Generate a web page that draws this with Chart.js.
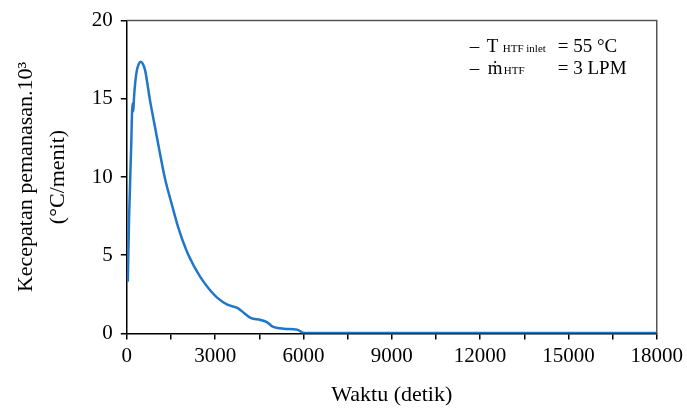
<!DOCTYPE html>
<html>
<head>
<meta charset="utf-8">
<script src="https://cdn.jsdelivr.net/npm/chart.js@4.4.1/dist/chart.umd.min.js"></script>
<style>
  html, body { margin: 0; padding: 0; background: #fff; }
  #wrap { width: 687px; height: 408px; }
</style>
</head>
<body>
<div id="wrap"><canvas id="laju"></canvas></div>
<script>
// waktu (detik) vs kecepatan pemanasan x10^3 (degC/menit)
var waktu = [34, 78, 145, 195, 222, 245, 290, 340, 400, 474, 540, 619, 788, 958, 1127, 1296, 1523, 1746, 2030, 2311, 2500, 2761, 3079, 3417, 3755, 3980, 4206, 4544, 4770, 4940, 5333, 5785, 6010, 7500, 9000, 10500, 12000, 13500, 15000, 16500, 18000];
var kecepatan = [3.3, 7.4, 11.7, 14.7, 14.2, 15.1, 16.1, 16.8, 17.2, 17.37, 17.25, 16.85, 14.9, 13.2, 11.5, 9.9, 8.29, 6.78, 5.28, 4.2, 3.6, 2.92, 2.27, 1.84, 1.63, 1.31, 0.99, 0.86, 0.71, 0.45, 0.3, 0.24, 0.03, 0.03, 0.03, 0.02, 0.02, 0.02, 0.02, 0.02, 0.02];
var xTicks = [0, 3000, 6000, 9000, 12000, 15000, 18000];
var yTicks = [0, 5, 10, 15, 20];

var titikData = waktu.map(function(w, i){ return { x: w, y: kecepatan[i] }; });
var serif = "'Liberation Serif', 'Times New Roman', serif";

var bingkai = {
    id: 'bingkai',
    afterDraw: function(chart){
        var ctx = chart.ctx, a = chart.chartArea;
        ctx.save();
        ctx.strokeStyle = '#555';
        ctx.lineWidth = 1.5;
        ctx.beginPath();
        ctx.moveTo(a.left, a.top);
        ctx.lineTo(a.right, a.top);
        ctx.lineTo(a.right, a.bottom);
        ctx.stroke();

        // keterangan kondisi
        ctx.fillStyle = '#000';
        ctx.textBaseline = 'alphabetic';
        var x0 = a.right - 187, y1 = a.top + 31, y2 = a.top + 53;
        ctx.font = '19px ' + serif;
        ctx.fillText('\u2013', x0, y1);
        ctx.fillText('T', x0 + 17, y1);
        ctx.fillText('\u2013', x0, y2);
        ctx.fillText('m\u0307', x0 + 18, y2);
        ctx.fillText('= 55 \u00B0C', x0 + 88, y1);
        ctx.fillText('= 3 LPM', x0 + 88, y2);
        ctx.font = '11px ' + serif;
        ctx.fillText('HTF inlet', x0 + 33, y1);
        ctx.fillText('HTF', x0 + 34, y2);
        ctx.restore();
    }
};

var ctx = document.getElementById('laju').getContext('2d');
var chart = new Chart(ctx, {
    type: 'line',
    data: {
        datasets: [{
            label: 'Kecepatan pemanasan',
            data: titikData,
            borderColor: '#1f77c8',
            borderWidth: 2.5,
            pointRadius: 0,
            fill: false,
            cubicInterpolationMode: 'monotone'
        }]
    },
    options: {
        responsive: true,
        maintainAspectRatio: false,
        animation: false,
        layout: { padding: { top: 10, right: 28, left: 10, bottom: 0 } },
        plugins: {
            legend: { display: false },
            tooltip: { enabled: false }
        },
        scales: {
            x: {
                type: 'linear',
                min: 0,
                max: 18000,
                afterBuildTicks: function(axis){
                    var t = [];
                    for (var v = 0; v <= 18000; v += 1500) t.push({ value: v });
                    axis.ticks = t;
                },
                ticks: {
                    autoSkip: false,
                    maxRotation: 0,
                    color: '#000',
                    font: { family: serif, size: 21 },
                    padding: 4,
                    callback: function(v){ return xTicks.indexOf(v) >= 0 ? String(v) : ''; }
                },
                grid: { drawOnChartArea: false, drawTicks: true, tickLength: 6, color: '#000', lineWidth: 1.5 },
                border: { color: '#000', width: 1.5 },
                title: {
                    display: true,
                    text: 'Waktu (detik)',
                    color: '#000',
                    font: { family: serif, size: 22 },
                    padding: { top: 9, bottom: 0 }
                }
            },
            y: {
                min: 0,
                max: 20,
                afterBuildTicks: function(axis){
                    axis.ticks = yTicks.map(function(v){ return { value: v }; });
                },
                ticks: {
                    color: '#000',
                    font: { family: serif, size: 21 },
                    padding: 8
                },
                grid: { drawOnChartArea: false, drawTicks: true, tickLength: 6, color: '#000', lineWidth: 1.5 },
                border: { color: '#000', width: 1.5 },
                title: {
                    display: true,
                    text: ['Kecepatan pemanasan.10\u00B3', '(\u00B0C/menit)'],
                    color: '#000',
                    font: { family: serif, size: 22, lineHeight: 1.45 },
                    padding: { top: 0, bottom: 10 }
                }
            }
        }
    },
    plugins: [bingkai]
});
</script>
</body>
</html>
